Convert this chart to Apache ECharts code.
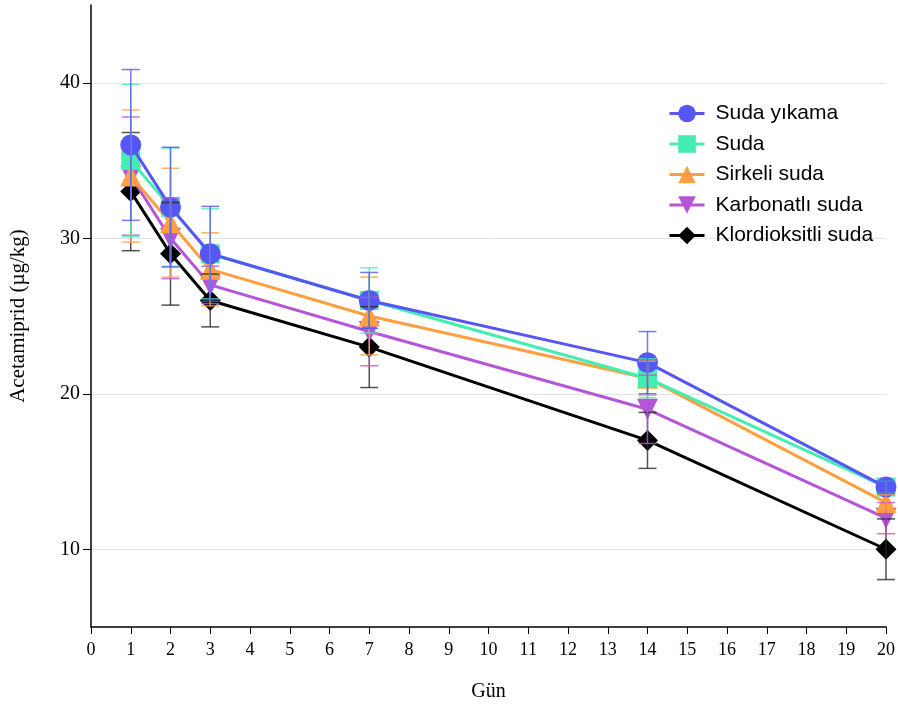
<!DOCTYPE html>
<html>
<head>
<meta charset="utf-8">
<script src="https://cdn.jsdelivr.net/npm/echarts@6/dist/echarts.min.js"></script>
<style>html,body{margin:0;padding:0;background:#fff}#c{width:898px;height:706px}</style>
</head>
<body>
<div id="c"></div>
<script>
const days = [1, 2, 3, 7, 14, 20];
const seriesNames = ['Suda yıkama', 'Suda', 'Sirkeli suda', 'Karbonatlı suda', 'Klordioksitli suda'];
const sudaYikama = [36, 32, 29, 26, 22, 14];
const suda = [35, 32, 29, 26, 21, 14];
const sirkeli = [34, 31, 28, 25, 21, 13];
const karbonatli = [34, 30, 27, 24, 19, 12];
const klordioksitli = [33, 29, 26, 23, 17, 10];
const errSudaYikama = [4.85, 3.85, 3.05, 1.8, 2.0, 0.4];
const errSuda = [4.9, 3.8, 2.9, 2.1, 1.25, 0.4];
const errSirkeli = [4.25, 3.5, 2.35, 2.5, 1.1, 0.5];
const errKarbonatli = [3.8, 2.6, 1.2, 2.2, 2.2, 1.0];
const errKlordioksitli = [3.8, 3.3, 1.7, 2.6, 1.8, 1.95];
const yTickValues = [10, 20, 30, 40];

const values = [sudaYikama, suda, sirkeli, karbonatli, klordioksitli];
const errs = [errSudaYikama, errSuda, errSirkeli, errKarbonatli, errKlordioksitli];
const colors = ['#5656F4', '#44EEB2', '#FF9F40', '#B556D8', '#000000'];
const barColors = ['rgba(86,86,244,0.8)', 'rgba(68,238,178,0.8)', 'rgba(255,159,64,0.8)', 'rgba(181,86,216,0.8)', 'rgba(40,40,40,0.8)'];
const symbols = ['circle', 'rect', 'triangle', 'triangle', 'diamond'];
const symbolSizes = [21, 19, 21, 21, 21];
const rotates = [0, 0, 0, 180, 0];

const series = [];
for (let i = values.length - 1; i >= 0; i--) {
  series.push({
    name: seriesNames[i],
    type: 'line',
    data: days.map((d, k) => [d, values[i][k]]),
    symbol: symbols[i],
    symbolSize: symbolSizes[i],
    symbolRotate: rotates[i],
    itemStyle: { color: colors[i] },
    lineStyle: { color: colors[i], width: 3 },
    z: 3 + (values.length - i),
    animation: false
  });
}
for (let i = values.length - 1; i >= 0; i--) {
  const c = barColors[i];
  series.push({
    name: 'err_' + i,
    type: 'custom',
    z: 20 + (values.length - i),
    silent: true,
    animation: false,
    data: days.map((d, k) => [d, values[i][k], errs[i][k]]),
    renderItem: function (params, api) {
      const x = api.value(0), y = api.value(1), e = api.value(2);
      const top = api.coord([x, y + e]);
      const bot = api.coord([x, y - e]);
      const hw = 9;
      const st = { stroke: c, lineWidth: 1.5 };
      return {
        type: 'group',
        children: [
          { type: 'line', shape: { x1: top[0], y1: top[1], x2: bot[0], y2: bot[1] }, style: st },
          { type: 'line', shape: { x1: top[0] - hw, y1: top[1], x2: top[0] + hw, y2: top[1] }, style: st },
          { type: 'line', shape: { x1: bot[0] - hw, y1: bot[1], x2: bot[0] + hw, y2: bot[1] }, style: st }
        ]
      };
    }
  });
}

const chart = echarts.init(document.getElementById('c'));
chart.setOption({
  animation: false,
  backgroundColor: '#fff',
  grid: { left: 91, right: 12, top: 5, bottom: 79, containLabel: false, outerBoundsMode: 'none' },
  legend: {
    data: seriesNames,
    orient: 'vertical',
    left: 663,
    top: 98,
    itemWidth: 35,
    itemHeight: 22,
    itemGap: 9.5,
    lineStyle: { width: 3 },
    textStyle: { fontFamily: 'Liberation Sans, Arial, sans-serif', fontSize: 21, color: '#000', padding: [0, 0, 0, 6] }
  },
  xAxis: {
    type: 'value',
    min: 0,
    max: 20,
    interval: 1,
    name: 'Gün',
    nameLocation: 'middle',
    nameGap: 55,
    nameTextStyle: { fontFamily: 'Liberation Serif, Times New Roman, serif', fontSize: 20, color: '#000' },
    axisLine: { onZero: false, lineStyle: { color: '#000', width: 1.5 } },
    axisTick: { show: true, length: 7, lineStyle: { color: '#000', width: 1 } },
    axisLabel: { margin: 14, fontFamily: 'Liberation Serif, Times New Roman, serif', fontSize: 18, color: '#000' },
    splitLine: { show: false }
  },
  yAxis: {
    type: 'value',
    min: 5,
    max: 45,
    name: 'Acetamiprid (µg/kg)',
    nameLocation: 'middle',
    nameRotate: 90,
    nameGap: 62,
    nameTextStyle: { fontFamily: 'Liberation Serif, Times New Roman, serif', fontSize: 21, color: '#000' },
    axisLine: { show: true, onZero: false, lineStyle: { color: '#000', width: 1.5 } },
    axisTick: { show: true, length: 8, customValues: yTickValues, lineStyle: { color: '#000', width: 1 } },
    axisLabel: { margin: 11, customValues: yTickValues, fontFamily: 'Liberation Serif, Times New Roman, serif', fontSize: 20, color: '#000' },
    splitLine: { show: true, lineStyle: { color: '#e3e3e3', width: 1 } }
  },
  series: series
});
</script>
</body>
</html>
